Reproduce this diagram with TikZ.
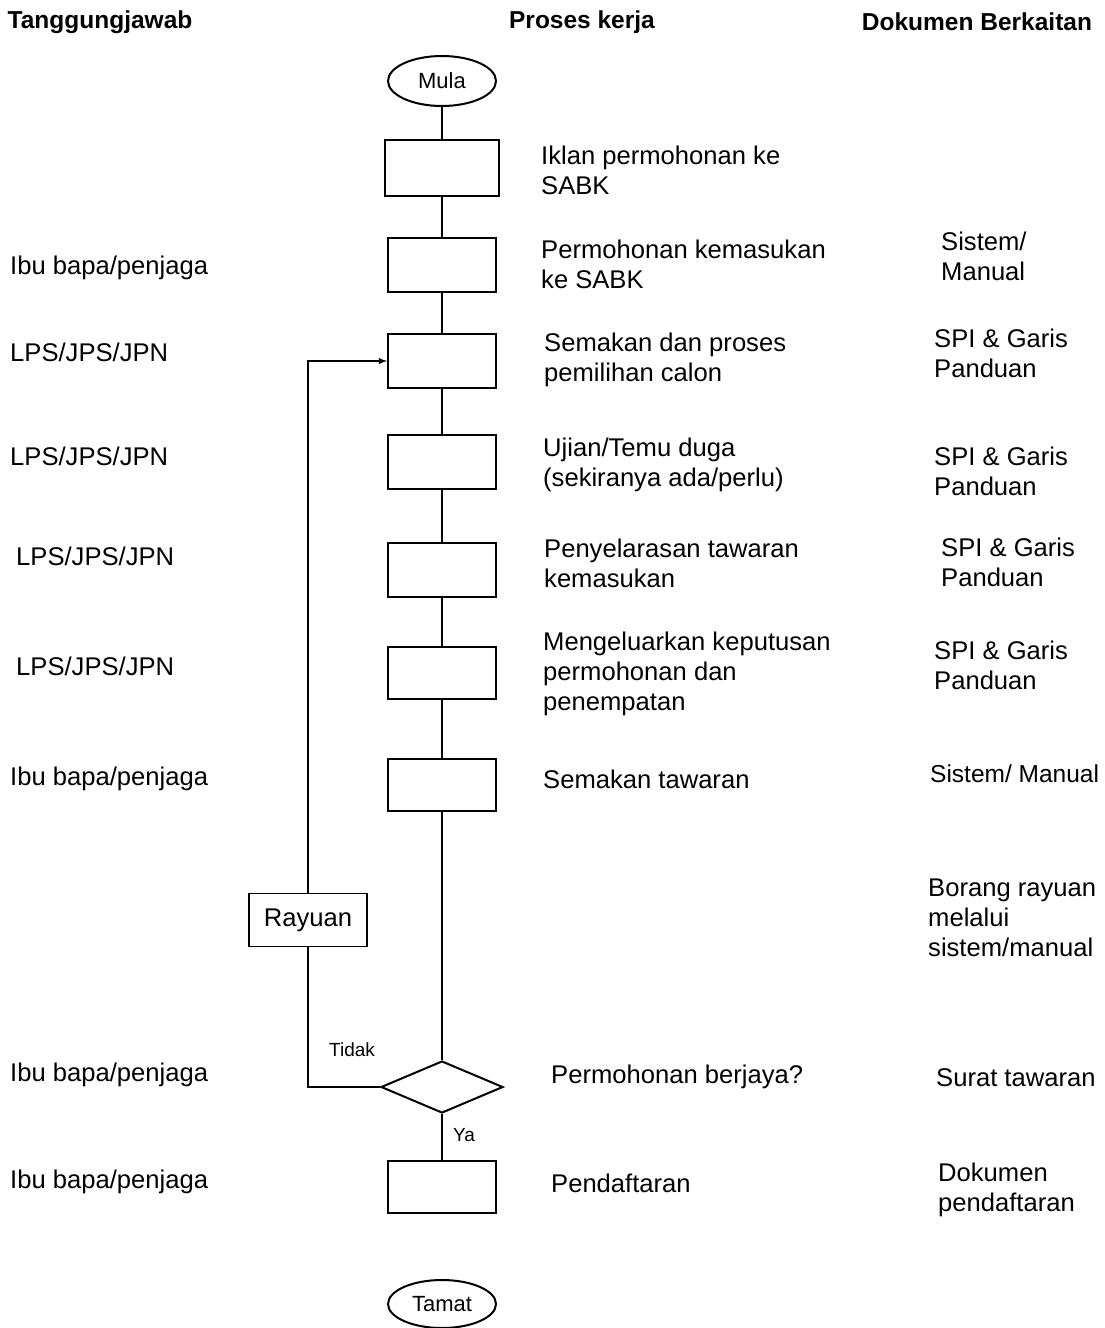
\documentclass[tikz,border=0pt]{standalone}
\usepackage{fontspec}
\setmainfont{Liberation Sans}
\usetikzlibrary{arrows}
\usetikzlibrary{shapes.geometric}

\tikzset{
    teks/.style = {font=\fontsize{25.6}{30}\selectfont, align=left, anchor=west, inner sep=0pt},
    tajuk/.style = {font=\bfseries\fontsize{24.5}{28}\selectfont, inner sep=0pt},
    kotak/.style = {draw, line width=2pt, minimum width=108pt, minimum height=54pt, inner sep=0pt},
    hujung/.style = {draw, line width=2pt, ellipse, minimum width=108pt, minimum height=50pt, inner sep=0pt, font=\fontsize{22}{26}\selectfont},
    keputusan/.style = {draw, line width=2pt, diamond, minimum width=122pt, minimum height=52pt, inner sep=0pt},
    garis/.style = {line width=1.8pt},
    kecil/.style = {font=\fontsize{19}{22}\selectfont, inner sep=0pt}
}

\begin{document}
\begin{tikzpicture}[x=1pt, y=-1pt]
    \useasboundingbox (0,0) rectangle (1105,1328);

    % tajuk lajur
    \node [tajuk] (tj) at (100,22) {Tanggungjawab};
    \node [tajuk] (pk) at (582,22) {Proses kerja};
    \node [tajuk] (dk) at (977,22) {Dokumen Berkaitan};

    % proses kerja
    \node [hujung] (mula) at (442,81) {Mula};
    \node [kotak, minimum width=114pt, minimum height=56pt] (p1) at (442,168) {};
    \node [kotak] (p2) at (442,265) {};
    \node [kotak] (p3) at (442,361) {};
    \node [kotak] (p4) at (442,462) {};
    \node [kotak] (p5) at (442,570) {};
    \node [kotak, minimum height=52pt] (p6) at (442,673) {};
    \node [kotak, minimum height=52pt] (p7) at (442,785) {};
    \node [keputusan] (berjaya) at (442,1087) {};
    \node [kotak, minimum height=52pt] (p8) at (442,1187) {};
    \node [hujung, minimum height=48pt] (tamat) at (442,1304) {Tamat};

    \node [draw, line width=1.8pt, minimum width=118pt, minimum height=53pt, inner sep=0pt,
           font=\fontsize{25.6}{30}\selectfont] (rayuan) at (308,920) {Rayuan};

    \draw [garis] (mula) -- (p1);
    \draw [garis] (p1) -- (p2);
    \draw [garis] (p2) -- (p3);
    \draw [garis] (p3) -- (p4);
    \draw [garis] (p4) -- (p5);
    \draw [garis] (p5) -- (p6);
    \draw [garis] (p6) -- (p7);
    \draw [garis] (p7) -- (berjaya);
    \draw [garis] (berjaya) -- (p8);

    % Tidak -> Rayuan -> semakan semula
    \draw [garis] (berjaya.west) -| (rayuan.south);
    \draw [garis, -latex] (rayuan.north) |- (p3.west);
    \node [kecil] (tidak) at (352,1050) {Tidak};
    \node [kecil] (ya) at (464,1135) {Ya};

    % keterangan proses
    \node [teks] (t1) at (541,170) {Iklan permohonan ke\\SABK};
    \node [teks] (t2) at (541,264) {Permohonan kemasukan\\ke SABK};
    \node [teks] (t3) at (544,360) {Semakan dan proses\\pemilihan calon};
    \node [teks] (t4) at (543,465) {Ujian/Temu duga\\(sekiranya ada/perlu)};
    \node [teks] (t5) at (544,563) {Penyelarasan tawaran\\kemasukan};
    \node [teks] (t6) at (543,674) {Mengeluarkan keputusan\\permohonan dan\\penempatan};
    \node [teks] (t7) at (543,779) {Semakan tawaran};
    \node [teks] (t8) at (551,1077) {Permohonan berjaya?};
    \node [teks] (t9) at (551,1183) {Pendaftaran};

    % tanggungjawab
    \node [teks] (j2) at (10,268) {Ibu bapa/penjaga};
    \node [teks] (j3) at (10,352) {LPS/JPS/JPN};
    \node [teks] (j4) at (10,456) {LPS/JPS/JPN};
    \node [teks] (j5) at (16,556) {LPS/JPS/JPN};
    \node [teks] (j6) at (16,666) {LPS/JPS/JPN};
    \node [teks] (j7) at (10,779) {Ibu bapa/penjaga};
    \node [teks] (j8) at (10,1075) {Ibu bapa/penjaga};
    \node [teks] (j9) at (10,1182) {Ibu bapa/penjaga};

    % dokumen berkaitan
    \node [teks] (d2) at (941,256) {Sistem/\\Manual};
    \node [teks] (d3) at (934,353) {SPI \& Garis\\Panduan};
    \node [teks] (d4) at (934,471) {SPI \& Garis\\Panduan};
    \node [teks] (d5) at (941,562) {SPI \& Garis\\Panduan};
    \node [teks] (d6) at (934,665) {SPI \& Garis\\Panduan};
    \node [teks, font=\fontsize{24.5}{30}\selectfont] (d7) at (930,774) {Sistem/ Manual};
    \node [teks] (dr) at (928,918) {Borang rayuan\\melalui\\sistem/manual};
    \node [teks] (d8) at (936,1078) {Surat tawaran};
    \node [teks] (d9) at (938,1190) {Dokumen\\pendaftaran};
\end{tikzpicture}
\end{document}
